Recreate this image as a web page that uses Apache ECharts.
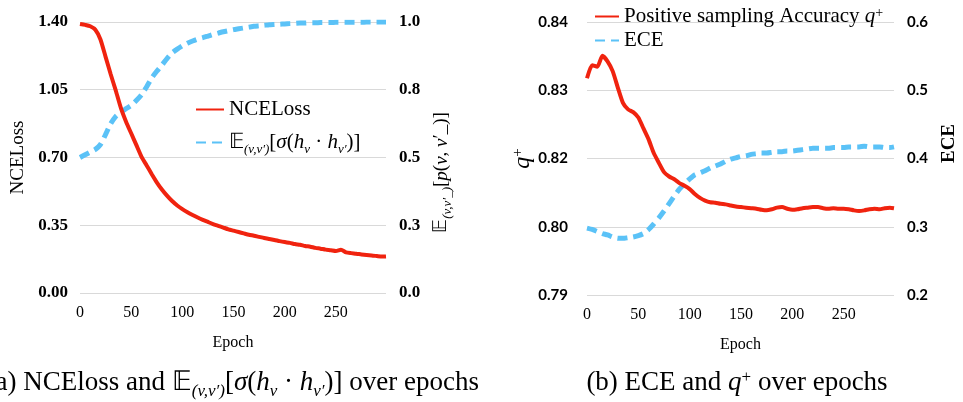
<!DOCTYPE html>
<html>
<head>
<meta charset="utf-8">
<script src="https://cdn.jsdelivr.net/npm/echarts@6/dist/echarts.min.js"></script>
<style>
  html, body { margin: 0; padding: 0; background: #fff; }
  #main { width: 963px; height: 402px; }
</style>
</head>
<body>
<div id="main"></div>
<script>
// epochs sampled every 5 (plus the last one)
var epochs = [0, 5, 10, 15, 20, 25, 30, 35, 40, 45,
  50, 55, 60, 65, 70, 75, 80, 85, 90, 95,
  100, 105, 110, 115, 120, 125, 130, 135, 140, 145,
  150, 155, 160, 165, 170, 175, 180, 185, 190, 195,
  200, 205, 210, 215, 220, 225, 230, 235, 240, 245,
  250, 255, 260, 265, 270, 275, 280, 285, 290, 295, 299];

// (a) NCELoss, left axis
var nceLoss = [1.390, 1.385, 1.378, 1.360, 1.310, 1.220, 1.130, 1.045, 0.955, 0.885,
  0.825, 0.765, 0.705, 0.660, 0.615, 0.572, 0.535, 0.503, 0.475, 0.452,
  0.433, 0.417, 0.403, 0.390, 0.378, 0.367, 0.356, 0.347, 0.338, 0.329,
  0.322, 0.315, 0.308, 0.301, 0.296, 0.290, 0.284, 0.279, 0.274, 0.268,
  0.263, 0.259, 0.253, 0.249, 0.243, 0.239, 0.233, 0.229, 0.224, 0.221,
  0.217, 0.224, 0.210, 0.206, 0.203, 0.199, 0.196, 0.194, 0.191, 0.188, 0.189];

// (a) E[sigma(hv . hv')], right axis
var expSigma = [0.500, 0.510, 0.520, 0.530, 0.548, 0.585, 0.625, 0.652, 0.668, 0.680,
  0.692, 0.710, 0.731, 0.760, 0.793, 0.818, 0.841, 0.865, 0.886, 0.900,
  0.912, 0.922, 0.930, 0.937, 0.942, 0.948, 0.954, 0.959, 0.964, 0.968,
  0.972, 0.975, 0.978, 0.981, 0.984, 0.986, 0.988, 0.990, 0.991, 0.992,
  0.993, 0.994, 0.995, 0.996, 0.996, 0.997, 0.997, 0.998, 0.998, 0.998,
  0.999, 0.999, 0.999, 0.999, 0.999, 0.999, 1.000, 1.000, 1.000, 1.000, 1.000];

// (b) positive sampling accuracy q+, left axis
var qPlus = [0.8297, 0.8321, 0.8318, 0.8338, 0.8328, 0.8310, 0.8280, 0.8252, 0.8240, 0.8235,
  0.8225, 0.8205, 0.8185, 0.8160, 0.8142, 0.8125, 0.8117, 0.8112, 0.8105, 0.8100,
  0.8094, 0.8085, 0.8078, 0.8073, 0.8070, 0.8069, 0.8067, 0.8066, 0.8064, 0.8062,
  0.8061, 0.8060, 0.8059, 0.8058, 0.8056, 0.8055, 0.8057, 0.8060, 0.8061, 0.8058,
  0.8056, 0.8057, 0.8059, 0.8060, 0.8061, 0.8061, 0.8059, 0.8058, 0.8059, 0.8058,
  0.8058, 0.8057, 0.8055, 0.8054, 0.8055, 0.8057, 0.8058, 0.8057, 0.8059, 0.8060, 0.8059];

// (b) ECE, right axis
var ece = [0.298, 0.296, 0.293, 0.290, 0.288, 0.285, 0.283, 0.283, 0.284, 0.285,
  0.287, 0.290, 0.296, 0.304, 0.313, 0.323, 0.334, 0.345, 0.355, 0.363,
  0.370, 0.376, 0.379, 0.382, 0.386, 0.389, 0.392, 0.396, 0.399, 0.401,
  0.403, 0.404, 0.406, 0.407, 0.408, 0.408, 0.409, 0.410, 0.410, 0.411,
  0.411, 0.412, 0.413, 0.414, 0.415, 0.415, 0.415, 0.415, 0.416, 0.416,
  0.416, 0.417, 0.417, 0.417, 0.418, 0.417, 0.417, 0.417, 0.416, 0.416, 0.417];

// axis ranges: [min, max, interval, decimals]
var lossAxis = [0, 1.4, 0.35, 2];
var sigmaAxis = [0, 1.0, 0.25, 1];
var qAxis = [0.79, 0.84, 0.0125, 2];
var eceAxis = [0.2, 0.6, 0.1, 1];

var RED = '#f0230f';
var BLUE = '#5bc2f7';
var SERIF = 'Liberation Serif';
var SANS = 'Lato';

function pairs(vals) {
  return epochs.map(function (e, i) { return [e, vals[i]]; });
}
function fmt(dec) {
  return function (v) {
    var p = Math.pow(10, dec);
    return (Math.round(v * p + 1e-6) / p).toFixed(dec);
  };
}

var sub = { fontFamily: SERIF, fontStyle: 'italic', fontSize: 13, verticalAlign: 'bottom', padding: [0, 0, -3, 0] };
var ital = { fontFamily: SERIF, fontStyle: 'italic' };

var chartDom = document.getElementById('main');
var myChart = echarts.init(chartDom);
var option;

function yAx(grid, range, pos, font, margin) {
  return {
    type: 'value',
    gridIndex: grid,
    position: pos,
    min: range[0],
    max: range[1],
    interval: range[2],
    axisLine: { show: false },
    axisTick: { show: false },
    splitLine: { show: pos === 'left', lineStyle: { color: '#d9d9d9', width: 1 } },
    axisLabel: {
      color: '#000',
      fontFamily: font,
      fontWeight: 'bold',
      fontSize: font === SERIF ? 17 : 15,
      margin: margin,
      formatter: fmt(range[3])
    }
  };
}

function xAx(grid) {
  return {
    type: 'value',
    gridIndex: grid,
    min: 0,
    max: 299,
    interval: 50,
    axisLine: { show: false },
    axisTick: { show: false },
    splitLine: { show: false },
    axisLabel: { color: '#000', fontFamily: SERIF, fontSize: 16, margin: 12, showMaxLabel: false },
    name: 'Epoch',
    nameLocation: 'middle',
    nameGap: 42,
    nameTextStyle: { color: '#000', fontFamily: SERIF, fontSize: 16 }
  };
}

var yLoss = yAx(0, lossAxis, 'left', SERIF, 12);
yLoss.name = 'NCELoss';
yLoss.nameLocation = 'middle';
yLoss.nameGap = 52;
yLoss.nameTextStyle = { color: '#000', fontFamily: SERIF, fontSize: 19 };

var ySigma = yAx(0, sigmaAxis, 'right', SERIF, 13);
ySigma.name = '𝔼{s|(v,v′_)}[{i|p}({i|v}, {i|v}′_)]';
ySigma.nameLocation = 'middle';
ySigma.nameGap = 46;
ySigma.nameTextStyle = {
  color: '#000', fontFamily: SERIF, fontSize: 19, padding: [0, 30, 0, 0],
  rich: { s: sub, i: { fontFamily: SERIF, fontStyle: 'italic', fontSize: 19 } }
};

var yQ = yAx(1, qAxis, 'left', SANS, 19);
yQ.name = '{q|q}{p|+}';
yQ.nameLocation = 'middle';
yQ.nameGap = 46;
yQ.nameTextStyle = {
  color: '#000', fontFamily: SERIF, fontSize: 20,
  rich: { q: { fontFamily: SERIF, fontStyle: 'italic', fontSize: 24 }, p: { fontFamily: SERIF, fontSize: 15, verticalAlign: 'top' } }
};

var yEce = yAx(1, eceAxis, 'right', SANS, 13);
yEce.name = 'ECE';
yEce.nameLocation = 'middle';
yEce.nameGap = 46;
yEce.nameTextStyle = { color: '#000', fontFamily: SERIF, fontSize: 19, fontWeight: 'bold', padding: [0, 0, 0, 30] };

var legendNames = {
  'NCELoss': 'NCELoss',
  'Esigma': '𝔼{s|(v,v′)}[{i|σ}({i|h}{s|v} · {i|h}{s|v′})]',
  'q': 'Positive sampling Accuracy {i|q}{p|+}',
  'ECE': 'ECE'
};
var legendText = {
  color: '#000', fontFamily: SERIF, fontSize: 21,
  rich: { s: sub, i: ital, p: { fontFamily: SERIF, fontSize: 14, verticalAlign: 'top' } }
};

function lineSeries(name, xi, yi, vals, color, width, dashed) {
  return {
    name: name,
    type: 'line',
    xAxisIndex: xi,
    yAxisIndex: yi,
    data: pairs(vals),
    symbol: 'none',
    smooth: 0.2,
    z: dashed ? 2 : 3,
    itemStyle: { color: color },
    lineStyle: { color: color, width: width, type: dashed ? [10, 6] : 'solid', cap: 'butt' }
  };
}

var capSub = { fontFamily: SERIF, fontStyle: 'italic', fontSize: 17, verticalAlign: 'bottom', padding: [0, 0, -4, 0] };
var capIt = { fontFamily: SERIF, fontStyle: 'italic', fontSize: 27 };
var capSup = { fontFamily: SERIF, fontSize: 17, verticalAlign: 'top' };

option = {
  backgroundColor: '#fff',
  animation: false,
  grid: [
    { left: 80, right: 577, top: 22, bottom: 109 },
    { left: 587, right: 69, top: 22, bottom: 107 }
  ],
  xAxis: [xAx(0), xAx(1)],
  yAxis: [yLoss, ySigma, yQ, yEce],
  legend: [
    {
      data: ['NCELoss', 'Esigma'],
      orient: 'vertical',
      left: 190,
      top: 94,
      itemWidth: 28,
      itemHeight: 14,
      itemGap: 12,
      itemStyle: { opacity: 0 },
      formatter: function (n) { return legendNames[n]; },
      textStyle: legendText
    },
    {
      data: ['q', 'ECE'],
      orient: 'vertical',
      left: 589,
      top: 1,
      itemWidth: 24,
      itemHeight: 14,
      itemGap: 3,
      itemStyle: { opacity: 0 },
      formatter: function (n) { return legendNames[n]; },
      textStyle: legendText
    }
  ],
  series: [
    lineSeries('Esigma', 0, 1, expSigma, BLUE, 5, true),
    lineSeries('NCELoss', 0, 0, nceLoss, RED, 4, false),
    lineSeries('ECE', 1, 3, ece, BLUE, 5, true),
    lineSeries('q', 1, 2, qPlus, RED, 4, false)
  ],
  graphic: [
    {
      type: 'text',
      x: 479,
      y: 383,
      style: {
        text: '(a) NCEloss and 𝔼{s|(v,v′)}[{i|σ}({i|h}{s|v} · {i|h}{s|v′})] over epochs',
        align: 'right',
        verticalAlign: 'middle',
        fill: '#000',
        fontFamily: SERIF,
        fontSize: 27,
        rich: { s: capSub, i: capIt }
      }
    },
    {
      type: 'text',
      x: 737,
      y: 383,
      style: {
        text: '(b) ECE and {i|q}{p|+} over epochs',
        align: 'center',
        verticalAlign: 'middle',
        fill: '#000',
        fontFamily: SERIF,
        fontSize: 27,
        rich: { i: capIt, p: capSup }
      }
    }
  ]
};

option && myChart.setOption(option);
</script>
</body>
</html>
